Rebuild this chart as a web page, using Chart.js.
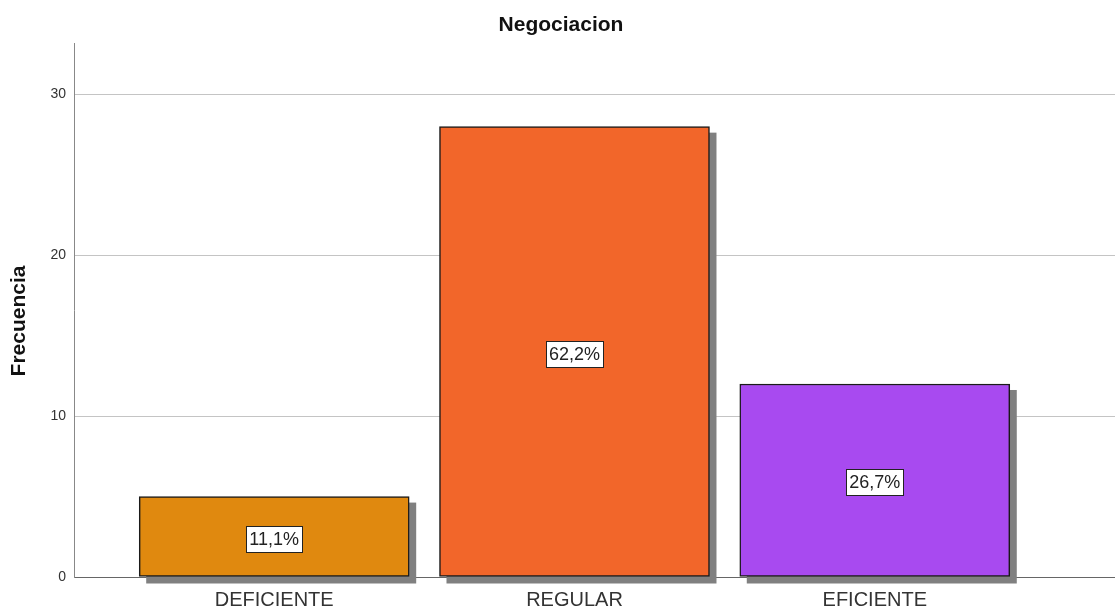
<!DOCTYPE html>
<html>
<head>
<meta charset="utf-8">
<script src="https://cdn.jsdelivr.net/npm/chart.js@4.4.1/dist/chart.umd.min.js"></script>
<style>
    body { margin: 0; background: #ffffff; }
    #wrap { width: 1115px; height: 608px; }
</style>
</head>
<body>
<div id="wrap"><canvas id="chart" width="1115" height="608"></canvas></div>
<script>
// Data
const categories = ['DEFICIENTE', 'REGULAR', 'EFICIENTE'];
const frequencies = [5, 28, 12];
const pctLabels = ['11,1%', '62,2%', '26,7%'];
const barColors = ['#E0890F', '#F2662A', '#A84AF0'];
const yTicks = [0, 10, 20, 30];

const FONT = 'Arial, "Liberation Sans", sans-serif';

// category positions on a linear x axis (1, 2, 3)
const xPositions = categories.map((_, i) => i + 1);

// Gray drop shadow behind each bar
const shadowPlugin = {
    id: 'barShadow',
    beforeDatasetsDraw(chart) {
        const ctx = chart.ctx;
        const meta = chart.getDatasetMeta(0);
        ctx.save();
        ctx.fillStyle = '#808080';
        meta.data.forEach(bar => {
            const p = bar.getProps(['x', 'y', 'base', 'width'], true);
            ctx.fillRect(p.x - p.width / 2 + 7, p.y + 6, p.width, p.base - p.y + 1);
        });
        ctx.restore();
    }
};

// Percentage boxes in the middle of each bar
const pctPlugin = {
    id: 'pctBoxes',
    afterDatasetsDraw(chart) {
        const ctx = chart.ctx;
        const meta = chart.getDatasetMeta(0);
        ctx.save();
        ctx.font = '18px ' + FONT;
        ctx.textAlign = 'center';
        ctx.textBaseline = 'middle';
        meta.data.forEach((bar, i) => {
            const p = bar.getProps(['x', 'y', 'base'], true);
            const cy = (p.y + p.base) / 2 + 2;
            const tw = ctx.measureText(pctLabels[i]).width;
            const bw = Math.round(tw + 6), bh = 26;
            const bx = Math.round(p.x - bw / 2) + 0.5, by = Math.round(cy - bh / 2) + 0.5;
            ctx.fillStyle = '#ffffff';
            ctx.fillRect(bx, by, bw, bh);
            ctx.strokeStyle = '#222222';
            ctx.lineWidth = 1;
            ctx.strokeRect(bx, by, bw, bh);
            ctx.fillStyle = '#222222';
            ctx.fillText(pctLabels[i], p.x, cy + 1);
        });
        ctx.restore();
    }
};

// Chart title and y axis title
const titlesPlugin = {
    id: 'titles',
    afterDraw(chart) {
        const ctx = chart.ctx;
        ctx.save();
        ctx.fillStyle = '#111111';
        ctx.textAlign = 'center';
        ctx.textBaseline = 'middle';
        ctx.font = 'bold 21px ' + FONT;
        ctx.fillText('Negociacion', 561, 25);
        ctx.translate(19, 321);
        ctx.rotate(-Math.PI / 2);
        ctx.font = 'bold 21px ' + FONT;
        ctx.fillText('Frecuencia', 0, 0);
        ctx.restore();
    }
};

new Chart(document.getElementById('chart').getContext('2d'), {
    type: 'bar',
    data: {
        datasets: [{
            label: 'Frecuencia',
            data: xPositions.map((x, i) => ({ x: x, y: frequencies[i] })),
            backgroundColor: barColors,
            borderColor: '#1a1a1a',
            borderWidth: 1.5,
            borderSkipped: false,
            barThickness: 270
        }]
    },
    options: {
        responsive: false,
        animation: false,
        layout: { padding: { top: 43, left: 0, right: 0, bottom: 0 } },
        plugins: {
            legend: { display: false },
            title: { display: false },
            tooltip: { enabled: false }
        },
        scales: {
            x: {
                type: 'linear',
                offset: false,
                min: 0.3333,
                max: 3.8,
                afterBuildTicks: (scale) => {
                    scale.ticks = xPositions.map(v => ({ value: v }));
                },
                afterFit: (scale) => { scale.height = 31; },
                ticks: {
                    autoSkip: false,
                    maxRotation: 0,
                    padding: 11,
                    color: '#333333',
                    font: { family: FONT, size: 20 },
                    callback: (v) => categories[Math.round(v) - 1] || ''
                },
                grid: { display: false, drawTicks: false, offset: false },
                border: { display: true, color: '#666666', width: 1 }
            },
            y: {
                min: 0,
                max: 33.2,
                afterBuildTicks: (scale) => {
                    scale.ticks = yTicks.map(v => ({ value: v }));
                },
                afterFit: (scale) => { scale.width = 74; },
                ticks: {
                    padding: 8,
                    color: '#333333',
                    font: { family: FONT, size: 14 }
                },
                grid: { color: '#C4C4C4', lineWidth: 1, drawTicks: false },
                border: { display: true, color: '#888888', width: 1 }
            }
        }
    },
    plugins: [shadowPlugin, pctPlugin, titlesPlugin]
});
</script>
</body>
</html>
